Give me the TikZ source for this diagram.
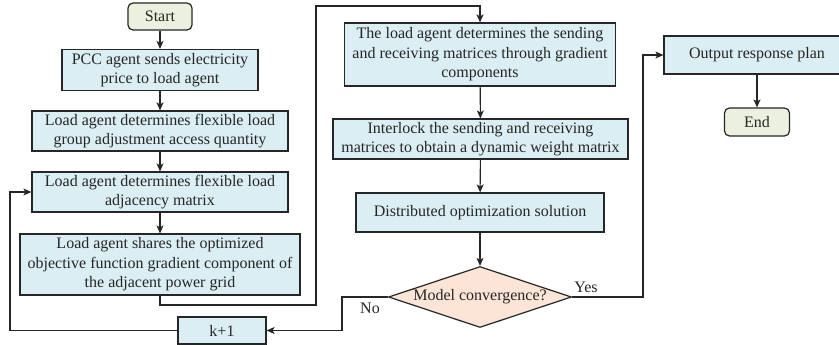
\documentclass[tikz,border=0pt]{standalone}
\usepackage{fontspec}
\setmainfont{Liberation Serif}
\usetikzlibrary{arrows.meta,shapes.geometric}
\definecolor{boxblue}{HTML}{DAEEF3}
\definecolor{termgreen}{HTML}{EBF1DE}
\definecolor{decpeach}{HTML}{FCE4D6}
\definecolor{edge}{HTML}{262626}
\tikzset{
  base/.style={draw=edge, line width=1.2pt, align=center, inner sep=1pt,
    font=\fontsize{16}{19.5}\selectfont, text=edge},
  procbox/.style={base, fill=boxblue, rectangle},
  termbox/.style={base, fill=termgreen, rectangle, rounded corners=5pt},
  decbox/.style={base, fill=decpeach, diamond, aspect=3, inner sep=0pt},
  arr/.style={draw=edge, line width=1.1pt, -{Stealth[length=8pt,width=7pt,inset=2pt]}},
  lbl/.style={font=\fontsize{16}{19.5}\selectfont, text=edge}
}
\begin{document}
\begin{tikzpicture}[x=1pt,y=-1pt]
\clip (0,0) rectangle (839,345);
\fill[white] (0,0) rectangle (839,345);

% left column
\node[termbox, minimum width=64pt, minimum height=27pt] (start) at (160,16.5) {Start};
\node[procbox, minimum width=196pt, minimum height=41pt] (pcc) at (160,70) {PCC agent sends electricity\\price to load agent};
\node[procbox, minimum width=256pt, minimum height=40pt] (flex) at (160,131) {Load agent determines flexible load\\group adjustment access quantity};
\node[procbox, minimum width=256pt, minimum height=40pt] (adj) at (160,192) {Load agent determines flexible load\\adjacency matrix};
\node[procbox, minimum width=280pt, minimum height=61pt] (share) at (160,264.5) {Load agent shares the optimized\\objective function gradient component of\\the adjacent power grid};
\node[procbox, minimum width=88pt, minimum height=27pt] (kp1) at (222,330.5) {k+1};

% middle column
\node[procbox, minimum width=271pt, minimum height=63pt] (send) at (480,54.5) {The load agent determines the sending\\and receiving matrices through gradient\\components};
\node[procbox, minimum width=295pt, minimum height=40pt] (lock) at (480.5,139) {Interlock the sending and receiving\\matrices to obtain a dynamic weight matrix};
\node[procbox, minimum width=248pt, minimum height=39pt] (dist) at (480,212.5) {Distributed optimization solution};
\node[decbox, minimum width=183pt, minimum height=61pt] (conv) at (480,297) {Model convergence?};

% right column
\node[procbox, minimum width=186pt, minimum height=38pt] (out) at (757,55) {Output response plan};
\node[termbox, minimum width=65pt, minimum height=28pt] (endn) at (757,122) {End};

% routing points
\coordinate (r1) at (316,305);
\coordinate (r2) at (316,6);
\coordinate (n1) at (342,297);
\coordinate (l1) at (10,330.5);
\coordinate (y1) at (643,297);

% main flow
\draw[arr] (start) -- (pcc);
\draw[arr] (pcc) -- (flex);
\draw[arr] (flex) -- (adj);
\draw[arr] (adj) -- (share);
\draw[arr] (share.south) |- (r1) -- (r2) -| (send.north);
\draw[arr] (send) -- (lock);
\draw[arr] (lock) -- (dist);
\draw[arr] (dist) -- (conv);

% iteration loop
\draw[arr] (conv.west) -- (n1) |- (kp1.east);
\draw[arr] (kp1.west) -- (l1) |- (adj.west);
\node[lbl] (nolbl) at (370,308) {No};

% exit
\draw[arr] (conv.east) -- (y1) |- (out.west);
\node[lbl] (yeslbl) at (586,287) {Yes};
\draw[arr] (out) -- (endn);
\end{tikzpicture}
\end{document}
